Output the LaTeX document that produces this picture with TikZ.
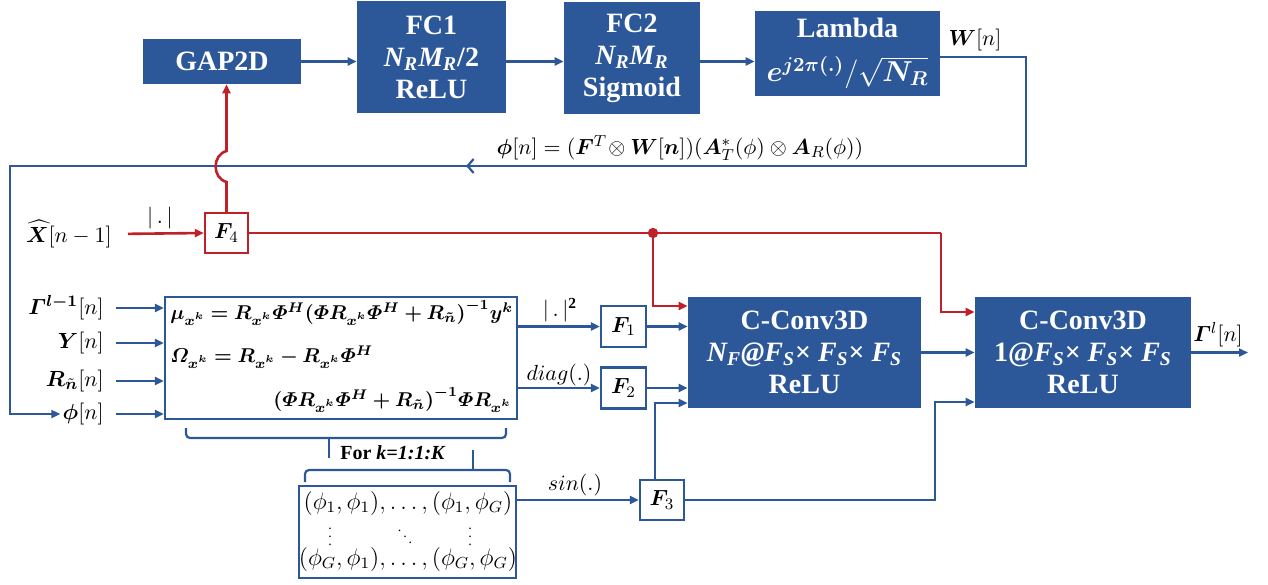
\documentclass[tikz,border=0pt]{standalone}
\usepackage{amsmath,bm}
\usepackage{fontspec}
\setmainfont{Liberation Serif}
\usetikzlibrary{arrows.meta,decorations.markings}
\definecolor{myblue}{RGB}{44,87,153}
\definecolor{myred}{RGB}{192,32,40}
\begin{document}
\begin{tikzpicture}[x=0.5pt,y=-0.5pt,
 bl/.style={draw=myblue, line width=1.1pt},
 arr/.style={bl, -{Triangle[length=4.5pt,width=4pt]}},
 rl/.style={draw=myred, line width=1.3pt},
 rarr/.style={rl, -{Triangle[length=4.5pt,width=4pt]}},
 blk/.style={fill=myblue, text=white, inner sep=0pt, align=center, font=\bfseries\fontsize{14}{16}\selectfont},
 wbox/.style={draw=myblue, line width=1.2pt, fill=white, inner sep=0pt},
 fbx/.style={draw=myblue, line width=1.2pt, inner sep=0pt, minimum width=22.5pt, minimum height=20.5pt, font=\fontsize{11}{13}\selectfont},
 lab/.style={inner sep=1pt, font=\fontsize{11}{13}\selectfont},
 eqs/.style={inner sep=0pt, font=\fontsize{9.9}{12}\selectfont},
 grd/.style={inner sep=0pt, font=\fontsize{11.5}{13}\selectfont},
 dts/.style={inner sep=0pt, font=\fontsize{7}{8}\selectfont}
]
\useasboundingbox (0,0) rectangle (1268,584);

% top row
\node[blk, minimum width=79pt, minimum height=22.5pt] (gap) at (222,61.5) {GAP2D};
\node[blk, minimum width=74.5pt, minimum height=56pt] (fc1) at (431.5,57) {FC1\\ \textit{N\textsubscript{R}M\textsubscript{R}}/2\\ ReLU};
\node[blk, minimum width=68pt, minimum height=56pt] (fc2) at (632,58) {FC2\\ \textit{N\textsubscript{R}M\textsubscript{R}}\\ Sigmoid};
\node[blk, minimum width=92.5pt, minimum height=42.5pt] (lam) at (847.5,53.5) {Lambda\\[6pt] $\bm{e}^{\bm{j2\pi(.)}}/\sqrt{\bm{N}_{\bm{R}}}$};
\node[lab] (wn) at (975,40) {$\bm{W}[n]$};

\draw[arr] (gap.east) -- (gap.east -| fc1.west);
\draw[arr] (fc1.east |- gap.east) -- (gap.east -| fc2.west);
\draw[arr] (fc2.east |- gap.east) -- (gap.east -| lam.west);

% feedback formula
\node[lab] (form) at (680,148) {$\bm{\phi}[n] = (\bm{F}^{T}\!\otimes\bm{W}[\bm{n}])(\bm{A}_{T}^{*}(\phi)\otimes\bm{A}_{R}(\phi))$};

% left labels
\node[lab, anchor=east] (xhat) at (114,234) {$\widehat{\bm{X}}[n-1]$};
\node[lab, anchor=east] (gam) at (106,308) {$\bm{\varGamma}^{\bm{l-1}}[n]$};
\node[lab, anchor=east] (yn) at (106,343) {$\bm{Y}[n]$};
\node[lab, anchor=east] (rn) at (106,381) {$\bm{R}_{\tilde{\bm{n}}}[n]$};
\node[lab, anchor=east] (phil) at (106,414) {$\bm{\phi}[n]$};

% feedback line
\coordinate (c1) at (1026,166);
\coordinate (c2) at (10,166);
\draw[bl, -{Triangle[length=4.5pt,width=4pt]},
  postaction={decorate, decoration={markings, mark=at position 0.5 with {\arrow{Straight Barb[length=3pt,width=7pt,line width=1.1pt]}}}}]
  ([yshift=-1.75pt]lam.east) -| (c1) -- (c2) |- (phil.west);

% equation box
\node[wbox, minimum width=176pt, minimum height=61pt] (eq) at (341,358) {};
\node[eqs, anchor=west] (eq1) at (170,313) {$\bm{\mu_{x^k} = R_{x^k}\varPhi^H(\varPhi R_{x^k}\varPhi^H + R_{\tilde{n}})^{-1}y^k}$};
\node[eqs, anchor=west] (eq2) at (170,357) {$\bm{\varOmega_{x^k} = R_{x^k} - R_{x^k}\varPhi^H}$};
\node[eqs, anchor=east] (eq3) at (512,400) {$\bm{(\varPhi R_{x^k}\varPhi^H + R_{\tilde{n}})^{-1}\varPhi R_{x^k}}$};

\foreach \n in {gam, yn, rn, phil}
  \draw[arr, shorten <=5pt] (\n.east) -- (\n.east -| eq.west);

% F boxes
\node[fbx] (f1) at (623.5,326.5) {$\bm{F}_1$};
\node[fbx] (f2) at (623.5,388) {$\bm{F}_2$};
\node[fbx, minimum width=22pt, minimum height=20pt] (f3) at (662,500) {$\bm{F}_3$};
\node[fbx, draw=myred, minimum width=21.5pt, minimum height=20pt] (f4) at (226.5,233) {$\bm{F}_4$};

% conv blocks
\node[blk, minimum width=116.5pt, minimum height=55.5pt] (cv1) at (804.5,352.5) {C-Conv3D\\ \textit{N\textsubscript{F}@F\textsubscript{S}}× \textit{F\textsubscript{S}}× \textit{F\textsubscript{S}}\\ ReLU};
\node[blk, minimum width=108pt, minimum height=55.5pt] (cv2) at (1083,352.5) {C-Conv3D\\ 1@\textit{F\textsubscript{S}}× \textit{F\textsubscript{S}}× \textit{F\textsubscript{S}}\\ ReLU};
\coordinate (out) at (1248,352.5);
\node[lab] (gout) at (1218,335) {$\bm{\varGamma}^{l}[n]$};

% grid box
\node[wbox, minimum width=108.5pt, minimum height=46pt] (grid) at (407.5,532) {};
\node[grd] (row1) at (408,503) {$(\phi_1,\phi_1),\ldots,(\phi_1,\phi_G)$};
\node[grd] (row2) at (408,559) {$(\phi_G,\phi_1),\ldots,(\phi_G,\phi_G)$};
\node[dts] (vd1) at (330,531) {$\vdots$};
\node[dts] (dd) at (405,531) {$\ddots$};
\node[dts] (vd2) at (470,531) {$\vdots$};

% braces
\draw[bl, rounded corners=2pt] (186,428) -- (186,438) -- (506,438) -- (506,428);
\draw[bl] (329,438) -- (329,458);
\draw[bl, rounded corners=2pt] (305,482) -- (305,470) -- (510,470) -- (510,482);
\draw[bl] (473,470) -- (473,450);
\node[inner sep=0pt, font=\bfseries\fontsize{10}{12}\selectfont] (fork) at (393,453) {For \textit{k=1:1:K}};

% red paths
\draw[rarr, shorten <=7pt] (xhat.east) -- (f4.west);
\node[lab] (absl) at (160,218) {$|\,.\,|$};
\coordinate (h1) at (226.5,182);
\coordinate (h2) at (226.5,151);
\draw[rarr] (f4.north) -- (h1) .. controls (212,178) and (212,155) .. (h2) -- (h2 |- gap.south);
\coordinate (jn) at (653,233);
\coordinate (rc) at (941,233);
\draw[rl] (f4.east) -- (rc);
\draw[rarr] (rc) |- ([yshift=20.25pt]cv2.west);
\draw[rarr] (jn) |- ([yshift=23.25pt]cv1.west);
\fill[myred] (jn) circle (2.6pt);

% blue into conv
\draw[arr] (eq.east |- f1.west) -- (f1.west);
\node[lab] (sq) at (560,310) {$|\,.\,|^{\mathbf{2}}$};
\draw[arr] (eq.east |- f2.west) -- (f2.west);
\node[lab] (dg) at (559,375) {$diag(.)$};
\draw[arr] (grid.east |- f3.west) -- (f3.west);
\node[lab] (sn) at (575,485) {$sin(.)$};
\draw[arr] (f1.east) -- (f1.east -| cv1.west);
\draw[arr] (f2.east) -- (f2.east -| cv1.west);
\draw[arr] ([xshift=-3.5pt]f3.north) |- ([yshift=-25.25pt]cv1.west);
\draw[arr] (f3.east) -| (935,440) |- ([yshift=-24.75pt]cv2.west);
\draw[arr] (cv1.east) -- (cv2.west);
\draw[arr] (cv2.east) -- (out);
\end{tikzpicture}
\end{document}
